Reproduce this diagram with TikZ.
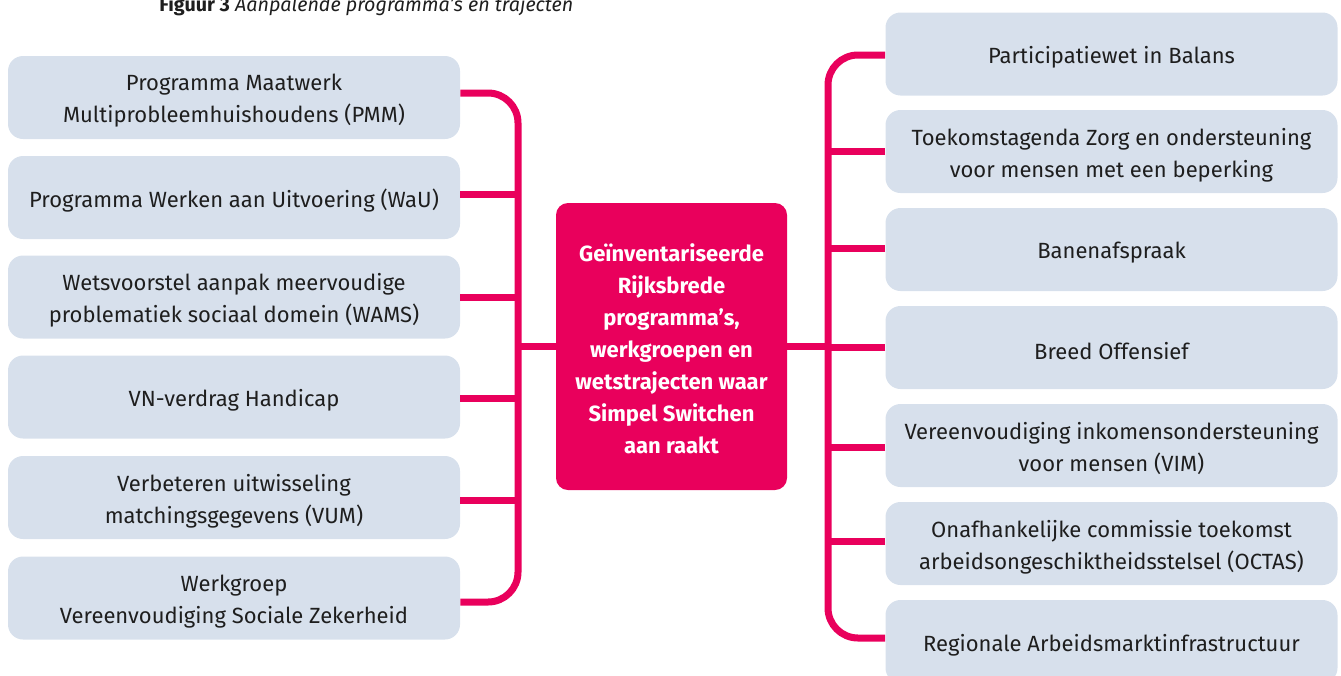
\documentclass[tikz,border=0pt]{standalone}
\usepackage{fontspec}
\setmainfont{Fira Sans}
\definecolor{rpink}{RGB}{233,0,92}
\definecolor{boxblue}{RGB}{215,224,236}
\definecolor{txt}{RGB}{30,30,30}
\tikzset{
  sidebox/.style={fill=boxblue, rounded corners=11.25pt, minimum width=339pt, minimum height=62.25pt,
    inner sep=0pt},
  sidetext/.style={align=center, text=txt, inner sep=0pt, yshift=-2.6pt,
    font=\fontsize{16.5}{24}\selectfont},
  centerbox/.style={fill=rpink, rounded corners=9pt, minimum width=173.25pt, minimum height=215.25pt,
    inner sep=0pt},
  centertext/.style={align=center, text=white, inner sep=0pt, yshift=-1.8pt,
    font=\fontsize{16.5}{24}\selectfont\bfseries},
  bus/.style={draw=rpink, line width=5.25pt},
}
\begin{document}
\begin{tikzpicture}[x=0.75pt,y=-0.75pt]
\useasboundingbox (0,0) rectangle (1341,675);
\clip (0,0) rectangle (1341,675);

\node[anchor=base west, text=txt, inner sep=0pt, font=\fontsize{14.8}{17}\selectfont] (title) at (159,11.7)
  {\textbf{Figuur 3} \textit{Aanpalende programma’s en trajecten}};

% left boxes
\node[sidebox, label={[sidetext]center:{Programma Maatwerk\\Multiprobleemhuishoudens (PMM)}}] (l1) at (234,97.5) {};
\node[sidebox, label={[sidetext]center:{Programma Werken aan Uitvoering (WaU)}}] (l2) at (234,197.5) {};
\node[sidebox, label={[sidetext]center:{Wetsvoorstel aanpak meervoudige\\problematiek sociaal domein (WAMS)}}] (l3) at (234,297) {};
\node[sidebox, label={[sidetext]center:{VN-verdrag Handicap}}] (l4) at (234,397) {};
\node[sidebox, label={[sidetext]center:{Verbeteren uitwisseling\\matchingsgegevens (VUM)}}] (l5) at (234,497.5) {};
\node[sidebox, label={[sidetext]center:{Werkgroep\\Vereenvoudiging Sociale Zekerheid}}] (l6) at (234,598) {};

% center
\node[centerbox, label={[centertext]center:{Geïnventariseerde\\Rijksbrede\\programma’s,\\werkgroepen en\\wetstrajecten waar\\Simpel Switchen\\aan raakt}}] (c) at (671.5,346.5) {};

% right boxes
\node[sidebox, label={[sidetext]center:{Participatiewet in Balans}}] (r1) at (1111.5,54) {};
\node[sidebox, label={[sidetext]center:{Toekomstagenda Zorg en ondersteuning\\voor mensen met een beperking}}] (r2) at (1111.5,151.5) {};
\node[sidebox, label={[sidetext]center:{Banenafspraak}}] (r3) at (1111.5,249.5) {};
\node[sidebox, label={[sidetext]center:{Breed Offensief}}] (r4) at (1111.5,347.5) {};
\node[sidebox, label={[sidetext]center:{Vereenvoudiging inkomensondersteuning\\voor mensen (VIM)}}] (r5) at (1111.5,445.5) {};
\node[sidebox, label={[sidetext]center:{Onafhankelijke commissie toekomst\\arbeidsongeschiktheidsstelsel (OCTAS)}}] (r6) at (1111.5,543.5) {};
\node[sidebox, label={[sidetext]center:{Regionale Arbeidsmarktinfrastructuur}}] (r7) at (1111.5,641.5) {};

% bus coordinates
\coordinate (LB) at (518,346.5);
\coordinate (RB) at (828,346.5);

% left bus
\draw[bus, rounded corners=22.5pt] (l1.east |- 0,93) -- (LB |- 0,93) -- (LB |- 0,602) -- (l6.east |- 0,602);
\draw[bus] (l2.east |- 0,194) -- (LB |- 0,194);
\draw[bus] (l3.east |- 0,297) -- (LB |- 0,297);
\draw[bus] (l4.east |- 0,398) -- (LB |- 0,398);
\draw[bus] (l5.east |- 0,500) -- (LB |- 0,500);
\draw[bus] (c.west) -- (LB);

% right bus
\draw[bus, rounded corners=22.5pt] (r1.west |- 0,55) -- (RB |- 0,55) -- (RB |- 0,638) -- (r7.west |- 0,638);
\draw[bus] (r2.west |- 0,151) -- (RB |- 0,151);
\draw[bus] (r3.west |- 0,248) -- (RB |- 0,248);
\draw[bus] (r4.west |- 0,347) -- (RB |- 0,347);
\draw[bus] (r5.west |- 0,447) -- (RB |- 0,447);
\draw[bus] (r6.west |- 0,541) -- (RB |- 0,541);
\draw[bus] (c.east) -- (RB);
\end{tikzpicture}
\end{document}
